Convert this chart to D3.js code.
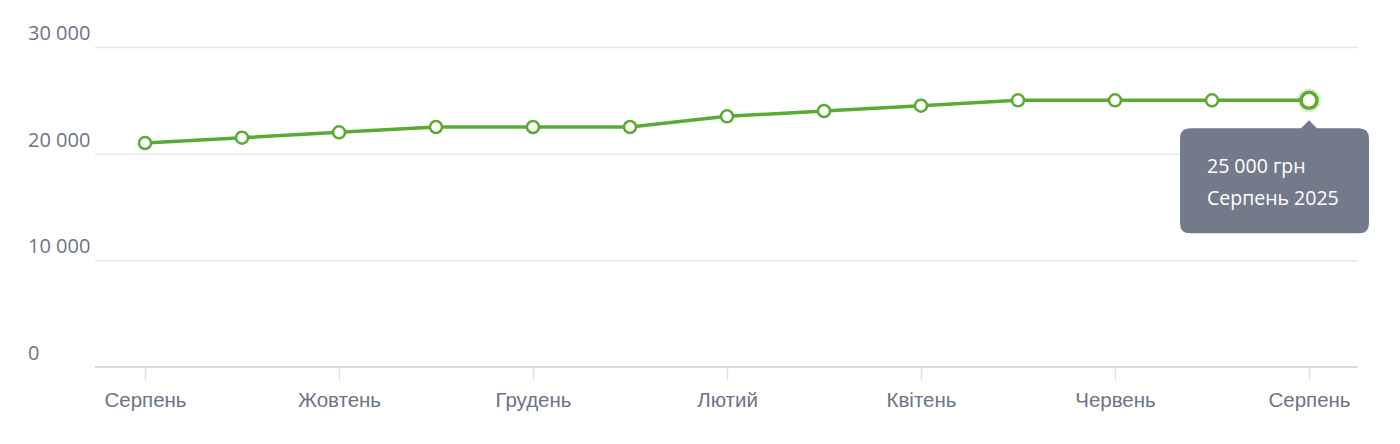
<!DOCTYPE html>
<html>
<head>
<meta charset="utf-8">
<script src="https://cdn.jsdelivr.net/npm/d3@7"></script>
<style>
  body { margin: 0; background: #fff; }
  svg { display: block; font-family: 'Open Sans', sans-serif; }
  .grid line { stroke: #e4e6ea; stroke-width: 1.5; }
  .grid path { display: none; }
  .yaxis text { fill: #6c7486; font-size: 20px; }
  .xaxis path { stroke: #d6d9df; stroke-width: 2; }
  .xaxis line { stroke: #dfe2e7; stroke-width: 1.5; }
  .xaxis text { fill: #6c7486; font-size: 20.5px; }
</style>
</head>
<body>
<svg id="chart"></svg>
<script>
const months = ['Серпень', 'Вересень', 'Жовтень', 'Листопад', 'Грудень', 'Січень',
  'Лютий', 'Березень', 'Квітень', 'Травень', 'Червень', 'Липень', 'Серпень'];
const years = [2024, 2024, 2024, 2024, 2024, 2025, 2025, 2025, 2025, 2025, 2025, 2025, 2025];
const salary = [21000, 21500, 22000, 22500, 22500, 22500, 23500, 24000, 24500, 25000, 25000, 25000, 25000];
const yTicks = [0, 10000, 20000, 30000];
const active = 12;

const width = 1400, height = 444;
const svg = d3.select('#chart').attr('width', width).attr('height', height);

const idx = salary.map((_, i) => i);
const x = d3.scalePoint().domain(idx).range([145, 1309]);
const y = d3.scaleLinear().domain([0, 30000]).range([367, 47]);
const fmt = v => d3.format(',')(v).replace(/,/g, ' ');

// Grid
svg.append('g')
  .attr('class', 'grid')
  .attr('transform', 'translate(95,0)')
  .call(d3.axisRight(y).tickValues(yTicks.slice(1)).tickSize(1263).tickFormat(''));

// Y labels sit above their grid lines
svg.append('g')
  .attr('class', 'yaxis')
  .selectAll('text')
  .data(yTicks)
  .enter().append('text')
  .attr('x', 28)
  .attr('y', d => y(d) - 7)
  .text(fmt);

// X axis, label on every other month
const xAxis = svg.append('g')
  .attr('class', 'xaxis')
  .attr('transform', `translate(0,${y(0)})`)
  .call(d3.axisBottom(x)
        .tickValues(idx.filter(i => i % 2 === 0))
        .tickSize(13)
        .tickPadding(12)
        .tickFormat(i => months[i]));
xAxis.select('.domain').attr('d', 'M95,0H1358');

const green = '#5aab33';
const line = d3.line().x((_, i) => x(i)).y(d => y(d));
svg.append('path')
  .datum(salary)
  .attr('fill', 'none')
  .attr('stroke', green)
  .attr('stroke-width', 3.5)
  .attr('stroke-linejoin', 'round')
  .attr('d', line);

// Halo for the hovered point
svg.append('circle')
  .attr('cx', x(active))
  .attr('cy', y(salary[active]))
  .attr('r', 12)
  .attr('fill', green)
  .attr('opacity', 0.2);

svg.append('g')
  .selectAll('circle')
  .data(salary)
  .enter().append('circle')
  .attr('cx', (_, i) => x(i))
  .attr('cy', d => y(d))
  .attr('r', (_, i) => i === active ? 8 : 6)
  .attr('fill', '#fff')
  .attr('stroke', green)
  .attr('stroke-width', (_, i) => i === active ? 3.5 : 2.5);

// Tooltip
const tx = x(active), ty = y(salary[active]);
const tip = svg.append('g');
const bx = 1180, by = ty + 28, bw = 189, bh = 105, r = 10;
tip.append('path')
  .attr('fill', '#737a8a')
  .attr('d', `M${bx + r},${by} H${tx - 8} L${tx},${by - 8} L${tx + 8},${by} H${bx + bw - r}
    Q${bx + bw},${by} ${bx + bw},${by + r} V${by + bh - r} Q${bx + bw},${by + bh} ${bx + bw - r},${by + bh}
    H${bx + r} Q${bx},${by + bh} ${bx},${by + bh - r} V${by + r} Q${bx},${by} ${bx + r},${by} Z`);
tip.selectAll('text')
  .data([fmt(salary[active]) + ' грн', months[active] + ' ' + years[active]])
  .enter().append('text')
  .attr('x', bx + 27)
  .attr('y', (_, i) => by + 45 + i * 32)
  .attr('fill', '#fff')
  .attr('font-size', 19.5)
  .text(d => d);
</script>
</body>
</html>
